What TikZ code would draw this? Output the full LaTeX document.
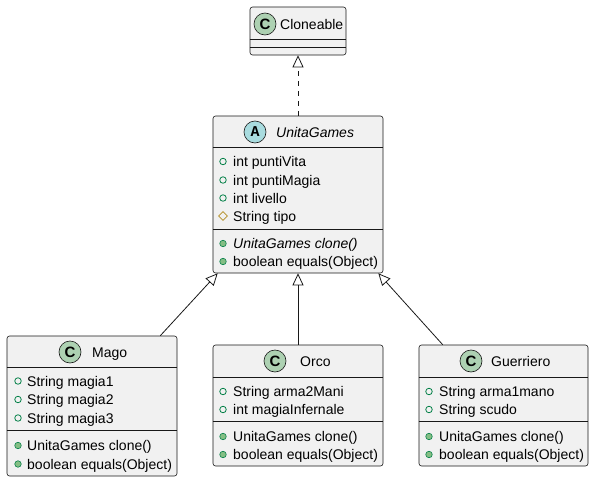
\documentclass[tikz,border=0pt]{standalone}
\usepackage{fontspec}
\setmainfont{Liberation Sans}
\newfontfamily\monob{Liberation Mono}
\usetikzlibrary{arrows.meta,shapes.geometric}
\definecolor{boxfill}{HTML}{F1F1F1}
\definecolor{boxline}{HTML}{181818}
\definecolor{cgreen}{HTML}{ADD1B2}
\definecolor{acyan}{HTML}{A9DCDF}
\definecolor{pubgreen}{HTML}{038048}
\definecolor{metgreen}{HTML}{84BE84}
\definecolor{protcol}{HTML}{B38D22}
\tikzset{
  umlbox/.style={draw=boxline, fill=boxfill, rounded corners=2.5pt, line width=0.6pt, inner sep=0pt},
  sepline/.style={draw=boxline, line width=0.6pt},
  txt/.style={anchor=base west, inner sep=0pt, font=\fontsize{14}{16}\selectfont},
  itxt/.style={txt, font=\fontsize{14}{16}\selectfont\itshape},
  cicon/.style={circle, draw=boxline, line width=0.6pt, fill=cgreen, minimum size=22pt, inner sep=0pt, font=\fontsize{15}{15}\selectfont\bfseries},
  aicon/.style={circle, draw=boxline, line width=0.6pt, fill=acyan, minimum size=22pt, inner sep=0pt, font=\fontsize{15}{15}\selectfont\monob\bfseries},
  pubf/.style={circle, draw=pubgreen, line width=0.8pt, minimum size=6.5pt, inner sep=0pt},
  pubm/.style={circle, draw=pubgreen, fill=metgreen, line width=0.6pt, minimum size=6.5pt, inner sep=0pt},
  protf/.style={diamond, draw=protcol, line width=0.8pt, minimum size=9pt, inner sep=0pt},
  inh/.style={draw=boxline, line width=0.8pt, -{Triangle[open, length=12pt, width=11pt]}},
}
\begin{document}
\begin{tikzpicture}[x=1pt, y=-1pt]
\useasboundingbox (0,0) rectangle (595,482);

% Cloneable
\node[umlbox, minimum width=96pt, minimum height=48pt] (cl) at (298,31) {};
\draw[sepline] (cl.west |- 0,39) -- (cl.east |- 0,39);
\draw[sepline] (cl.west |- 0,47) -- (cl.east |- 0,47);
\node[cicon] (clI) at (265,24) {C};
\node[txt] (clT) at (280,29) {Cloneable};

% UnitaGames
\node[umlbox, minimum width=170pt, minimum height=157pt] (ug) at (298,194.5) {};
\draw[sepline] (ug.west |- 0,147) -- (ug.east |- 0,147);
\draw[sepline] (ug.west |- 0,229) -- (ug.east |- 0,229);
\node[aicon] (ugI) at (255,132) {A};
\node[itxt] (ugT) at (276,137) {UnitaGames};
\node[pubf] (ugi1) at (223,161.5) {};
\node[txt] (ug1) at (233,166.5) {int puntiVita};
\node[pubf] (ugi2) at (223,180) {};
\node[txt] (ug2) at (233,185) {int puntiMagia};
\node[pubf] (ugi3) at (223,198) {};
\node[txt] (ug3) at (233,203) {int livello};
\node[protf] (ugi4) at (223,216) {};
\node[txt] (ug4) at (233,221) {String tipo};
\node[pubm] (ugi5) at (223,243.5) {};
\node[itxt] (ug5) at (233,248.5) {UnitaGames clone()};
\node[pubm] (ugi6) at (223,261.5) {};
\node[txt] (ug6) at (233,266.5) {boolean equals(Object)};

% Mago
\node[umlbox, minimum width=170pt, minimum height=140pt] (mago) at (92,406) {};
\draw[sepline] (mago.west |- 0,367) -- (mago.east |- 0,367);
\draw[sepline] (mago.west |- 0,430) -- (mago.east |- 0,430);
\node[cicon] (magoI) at (70,352) {C};
\node[txt] (magoT) at (92,357) {Mago};
\node[pubf] (mi1) at (18,381) {};
\node[txt] (m1) at (27,386) {String magia1};
\node[pubf] (mi2) at (18,399.5) {};
\node[txt] (m2) at (27,404.5) {String magia2};
\node[pubf] (mi3) at (18,418) {};
\node[txt] (m3) at (27,423) {String magia3};
\node[pubm] (mi4) at (18,445.5) {};
\node[txt] (m4) at (27,450.5) {UnitaGames clone()};
\node[pubm] (mi5) at (18,464) {};
\node[txt] (m5) at (27,469) {boolean equals(Object)};

% Orco
\node[umlbox, minimum width=170pt, minimum height=121pt] (orco) at (298,405.5) {};
\draw[sepline] (orco.west |- 0,377) -- (orco.east |- 0,377);
\draw[sepline] (orco.west |- 0,421) -- (orco.east |- 0,421);
\node[cicon] (orcoI) at (275,361) {C};
\node[txt] (orcoT) at (300,366) {Orco};
\node[pubf] (oi1) at (223,391.5) {};
\node[txt] (o1) at (233,396.5) {String arma2Mani};
\node[pubf] (oi2) at (223,409.5) {};
\node[txt] (o2) at (233,414.5) {int magiaInfernale};
\node[pubm] (oi3) at (223,436.5) {};
\node[txt] (o3) at (233,441.5) {UnitaGames clone()};
\node[pubm] (oi4) at (223,454.5) {};
\node[txt] (o4) at (233,459.5) {boolean equals(Object)};

% Guerriero
\node[umlbox, minimum width=169pt, minimum height=121pt] (guer) at (503.5,405.5) {};
\draw[sepline] (guer.west |- 0,377) -- (guer.east |- 0,377);
\draw[sepline] (guer.west |- 0,421) -- (guer.east |- 0,421);
\node[cicon] (guerI) at (471,361) {C};
\node[txt] (guerT) at (491,366) {Guerriero};
\node[pubf] (gi1) at (429,391.5) {};
\node[txt] (g1) at (439,396.5) {String arma1mano};
\node[pubf] (gi2) at (429,409.5) {};
\node[txt] (g2) at (439,414.5) {String scudo};
\node[pubm] (gi3) at (429,436.5) {};
\node[txt] (g3) at (439,441.5) {UnitaGames clone()};
\node[pubm] (gi4) at (429,454.5) {};
\node[txt] (g4) at (439,459.5) {boolean equals(Object)};

% Relations
\draw[inh, dashed, dash pattern=on 5pt off 5pt] (ug.north) -- (cl.south);
\draw[inh] ([xshift=-17pt]mago.north east) -- ([xshift=5pt]ug.south west);
\draw[inh] (orco.north) -- (ug.south);
\draw[inh] ([xshift=24pt]guer.north west) -- ([xshift=-5pt]ug.south east);
\end{tikzpicture}
\end{document}
